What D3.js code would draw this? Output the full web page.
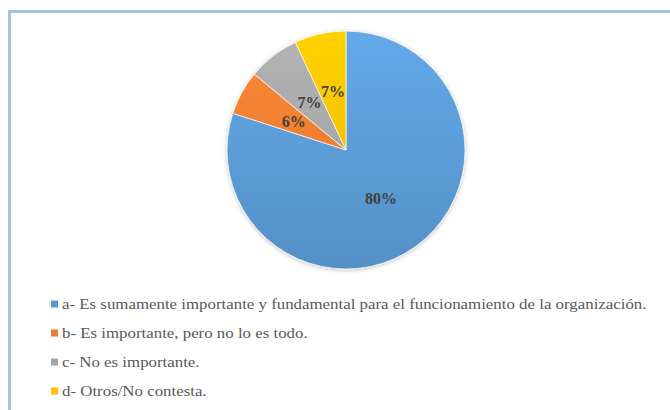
<!DOCTYPE html>
<html>
<head>
<meta charset="utf-8">
<script src="https://cdn.jsdelivr.net/npm/d3@7/dist/d3.min.js"></script>
<style>
  html, body { margin: 0; padding: 0; background: #fff; }
  svg { display: block; }
  text { font-family: "Liberation Serif", "Times New Roman", serif; }
</style>
</head>
<body>
<svg id="chart" width="670" height="410"></svg>
<script>
const categories = [
  "a- Es sumamente importante y fundamental para el funcionamiento de la organización.",
  "b- Es importante, pero no lo es todo.",
  "c- No es importante.",
  "d- Otros/No contesta."
];
const values = [80, 6, 7, 7];
const valueLabels = ["80%", "6%", "7%", "7%"];
const colors = ["#5B9BD5", "#ED7D31", "#A5A5A5", "#FFC000"];

const svg = d3.select("#chart");
const W = 670, H = 410;

svg.append("rect")
  .attr("x", 9.5).attr("y", 11.5)
  .attr("width", W + 20).attr("height", H + 20)
  .attr("fill", "#fff")
  .attr("stroke", "#9DC3E6")
  .attr("stroke-width", 3);

const cx = 346, cy = 150, r = 119;

const defs = svg.append("defs");
colors.forEach((c, i) => {
  const g = defs.append("linearGradient")
    .attr("id", "g" + i)
    .attr("gradientUnits", "userSpaceOnUse")
    .attr("x1", 0).attr("y1", -r).attr("x2", 0).attr("y2", r);
  g.append("stop").attr("offset", "0%").attr("stop-color", d3.color(c).brighter(0.25));
  g.append("stop").attr("offset", "100%").attr("stop-color", d3.color(c).darker(0.2));
});
const f = defs.append("filter").attr("id", "sh").attr("x", "-20%").attr("y", "-20%").attr("width", "140%").attr("height", "140%");
f.append("feDropShadow").attr("dx", 0).attr("dy", 1).attr("stdDeviation", 2).attr("flood-color", "#000").attr("flood-opacity", 0.25);

const pie = d3.pie().sort(null).value(d => d);
const arcs = pie(values);
const arc = d3.arc().innerRadius(0).outerRadius(r);

const g = svg.append("g").attr("transform", `translate(${cx},${cy})`);
g.append("g").attr("filter", "url(#sh)")
  .selectAll("path").data(arcs).join("path")
  .attr("d", arc)
  .attr("fill", (d, i) => `url(#g${i})`)
  .attr("stroke", "#fff")
  .attr("stroke-width", 0.7);

g.selectAll("text.lbl").data(arcs).join("text")
  .attr("class", "lbl")
  .attr("transform", d => `translate(${arc.centroid(d)})`)
  .attr("text-anchor", "middle")
  .attr("dominant-baseline", "central")
  .attr("font-weight", "bold")
  .attr("font-size", 16)
  .attr("fill", "#404040")
  .text((d, i) => valueLabels[i]);

// Legend
const legY = d3.scalePoint().domain(categories).range([304, 391]);
const items = svg.append("g").selectAll("g").data(categories).join("g")
  .attr("transform", d => `translate(0,${legY(d)})`);
items.append("rect")
  .attr("x", 51).attr("y", -3.5).attr("width", 7).attr("height", 7)
  .attr("fill", (d, i) => colors[i]);
const tg = items.append("g").attr("transform", "translate(62,0)");
const texts = tg.append("text")
  .attr("x", 0).attr("y", 0)
  .attr("dominant-baseline", "central")
  .attr("font-size", 14)
  .attr("fill", "#595959")
  .text(d => d);
const sx = 585 / texts.node().getComputedTextLength();
tg.attr("transform", `translate(62,0) scale(${sx},1)`);
</script>
</body>
</html>
